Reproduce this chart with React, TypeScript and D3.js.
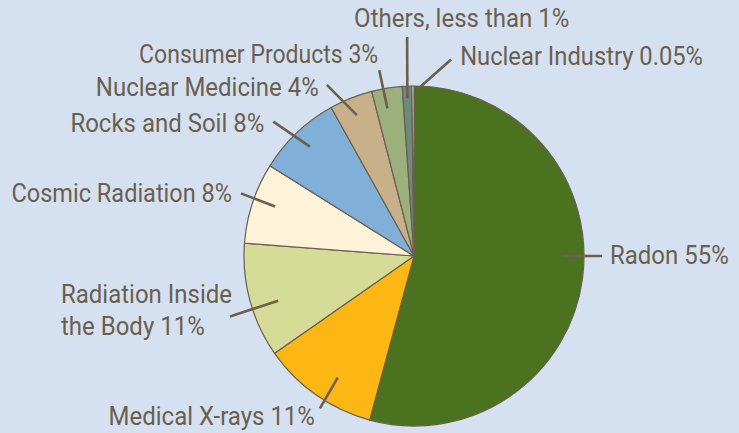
import React from "react";
import * as d3 from "d3";

// ---- data ----
const categories = [
  "Radon",
  "Medical X-rays",
  "Radiation Inside the Body",
  "Cosmic Radiation",
  "Rocks and Soil",
  "Nuclear Medicine",
  "Consumer Products",
  "Others",
  "Nuclear Industry",
];
const values = [54.2, 11.1, 10.9, 7.7, 8.0, 4.1, 2.9, 0.9, 0.2];
const labelLines = [
  ["Radon 55%"],
  ["Medical X-rays 11%"],
  ["Radiation Inside", "the Body 11%"],
  ["Cosmic Radiation 8%"],
  ["Rocks and Soil 8%"],
  ["Nuclear Medicine 4%"],
  ["Consumer Products 3%"],
  ["Others, less than 1%"],
  ["Nuclear Industry 0.05%"],
];
const colors = [
  "#4b721e",
  "#fdb714",
  "#d5dc97",
  "#fef2d9",
  "#80b0d8",
  "#c7b08a",
  "#9bb07c",
  "#6c8b7d",
  "#ecebe2",
];

// ---- layout (leader angles/radii and label offsets) ----
// [startAngleDeg, startRadius, endAngleDeg, endRadius]
const leaders = [
  [90, 149, 90, 188],
  [212.1, 143.6, 211.7, 179],
  [251.8, 143, 251.8, 193.7],
  [289.6, 147.5, 289.9, 184],
  [316.4, 151, 313.7, 194.6],
  [337.9, 152, 333, 192],
  [349.8, 150, 349.4, 189],
  [357.6, 158, 358.2, 219],
  [1.7, 168, 10.7, 200],
];
// [dx, dy (baseline of first line), anchor, per-label width factor]
const labelOffsets: [number, number, string, number][] = [
  [8, 8, "start", 1],
  [-5, 16.7, "end", 1],
  [-169, -13.8, "start", 1],
  [-9, 8.5, "end", 0.98],
  [-9, 10.5, "end", 1],
  [-8, 11, "end", 1],
  [-1, -7, "end", 0.96],
  [-53, -10.6, "start", 1],
  [9, 5.5, "start", 0.99],
];

const W = 739;
const H = 433;
const CX = 414;
const CY = 256;
const R = 170;
const INK = "#6b5f4e";
const BG = "#d5e1f1";
const FONT_SIZE = 25;
const SCALE_X = 0.96;
const LINE_H = 32.3;

function polar(angleDeg: number, r: number): [number, number] {
  const a = (angleDeg * Math.PI) / 180;
  return [CX + r * Math.sin(a), CY - r * Math.cos(a)];
}

export default function App() {
  const pie = d3
    .pie<number>()
    .sort(null)
    .value((d) => d)
    .startAngle(0)
    .endAngle(2 * Math.PI);
  const arcs = pie(values);
  const arc = d3.arc<d3.PieArcDatum<number>>().innerRadius(0).outerRadius(R);

  return (
    <svg
      width={W}
      height={H}
      style={{ position: "absolute", left: 0, top: 0, display: "block" }}
    >
      <rect x={0} y={0} width={W} height={H} fill={BG} />
      <g transform={`translate(${CX},${CY})`}>
        {arcs.map((a, i) => (
          <path
            key={categories[i]}
            d={arc(a) || ""}
            fill={colors[i]}
            stroke={INK}
            strokeWidth={1.2}
            strokeLinejoin="round"
          />
        ))}
      </g>
      {leaders.map((l, i) => {
        const [x1, y1] = polar(l[0], l[1]);
        const [x2, y2] = polar(l[2], l[3]);
        return (
          <line
            key={"l" + i}
            x1={x1}
            y1={y1}
            x2={x2}
            y2={y2}
            stroke={INK}
            strokeWidth={2.6}
          />
        );
      })}
      {leaders.map((l, i) => {
        const [x2, y2] = polar(l[2], l[3]);
        const [dx, dy, anchor, k] = labelOffsets[i];
        return (
          <g
            key={"t" + i}
            transform={`translate(${x2 + dx},${y2 + dy}) scale(${SCALE_X * k},1)`}
          >
            {labelLines[i].map((line, j) => (
              <text
                key={j}
                x={0}
                y={j * LINE_H}
                textAnchor={anchor as any}
                fill={INK}
                fontFamily="Roboto, 'Noto Sans', sans-serif"
                fontSize={FONT_SIZE}
              >
                {line}
              </text>
            ))}
          </g>
        );
      })}
    </svg>
  );
}
